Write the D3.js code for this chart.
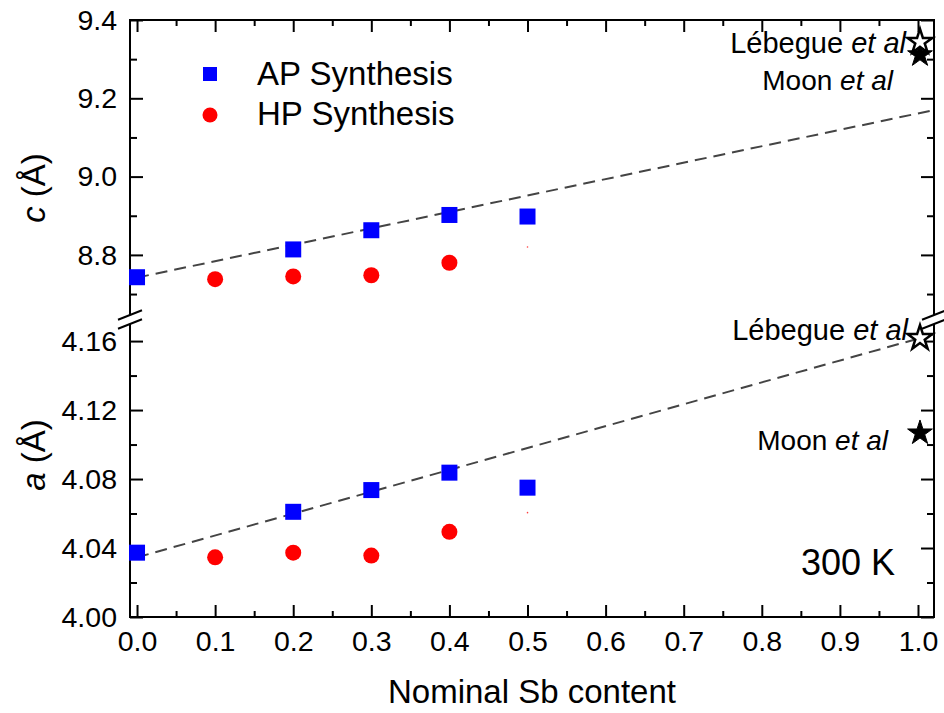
<!DOCTYPE html>
<html>
<head>
<meta charset="utf-8">
<script src="https://cdn.jsdelivr.net/npm/d3@7"></script>
<style>
  body { margin: 0; background: #fff; }
  svg text { font-family: "Liberation Sans", Arial, sans-serif; fill: #000; }
</style>
</head>
<body>
<div id="chart"></div>
<script>
// ---- data ----
const xAP = [0.0, 0.2, 0.3, 0.4, 0.5];
const cAP = [8.743, 8.814, 8.863, 8.902, 8.898];
const aAP = [4.0373, 4.061, 4.0736, 4.0837, 4.075];

const xHP = [0.1, 0.2, 0.3, 0.4];
const cHP = [8.738, 8.745, 8.748, 8.780];
const aHP = [4.0346, 4.0373, 4.0356, 4.0494];

// faint red speck at x = 0.5 in both panels
const xSpeck = [0.5];
const cSpeck = [8.820];
const aSpeck = [4.0605];

// dashed linear guides
const xFit = [0.0, 1.0205];
const cFit = [8.742, 9.170];
const aFit = [4.0346, 4.164];

// literature values (x = 1.0)
const xRef = [1.0];
const cLebegue = [9.344];
const cMoon = [9.311];
const aLebegue = [4.1617];
const aMoon = [4.1067];

const xTicks = [0, 0.1, 0.2, 0.3, 0.4, 0.5, 0.6, 0.7, 0.8, 0.9, 1.0];
const xMinor = [0.05, 0.15, 0.25, 0.35, 0.45, 0.55, 0.65, 0.75, 0.85, 0.95];
const cTicks = [8.8, 9.0, 9.2, 9.4];
const cMinor = [8.7, 8.9, 9.1, 9.3];
const aTicks = [4.00, 4.04, 4.08, 4.12, 4.16];
const aMinor = [4.02, 4.06, 4.10, 4.14];

// ---- layout ----
const W = 944, H = 713;
const mLeft = 130, mRight = 934, mTop = 20, mBottom = 617;
const breakY = 319.5;          // centre of axis break
const topEnd = 315, botStart = 324;

const svg = d3.select("#chart").append("svg")
    .attr("width", W).attr("height", H);

const x = d3.scaleLinear().domain([-0.009, 1.0205]).range([mLeft, mRight]);
const yc = d3.scaleLinear().domain([8.6465, 9.4]).range([topEnd, mTop]);
const ya = d3.scaleLinear().domain([4.0, 4.1699]).range([mBottom, botStart]);

svg.append("defs").append("clipPath").attr("id", "plotClip")
    .append("rect").attr("x", mLeft).attr("y", mTop)
    .attr("width", mRight - mLeft).attr("height", mBottom - mTop);

// helper for axes: strip domain, thicken ticks
function styleAxis(g) {
    g.select(".domain").remove();
    g.selectAll(".tick line").attr("stroke", "#000").attr("stroke-width", 2);
    g.selectAll(".tick text").attr("font-size", 28.5);
}

// x axes (bottom with labels, top without)
svg.append("g").attr("transform", `translate(0,${mBottom})`)
    .call(d3.axisBottom(x).tickValues(xTicks).tickFormat(d3.format(".1f")).tickSize(-12).tickPadding(14))
    .call(styleAxis);
svg.append("g").attr("transform", `translate(0,${mBottom})`)
    .call(d3.axisBottom(x).tickValues(xMinor).tickFormat("").tickSize(-6))
    .call(styleAxis);
svg.append("g").attr("transform", `translate(0,${mTop})`)
    .call(d3.axisTop(x).tickValues(xTicks).tickFormat("").tickSize(-12))
    .call(styleAxis);
svg.append("g").attr("transform", `translate(0,${mTop})`)
    .call(d3.axisTop(x).tickValues(xMinor).tickFormat("").tickSize(-6))
    .call(styleAxis);

// y axes for both panels
[[yc, cTicks, cMinor, d3.format(".1f")], [ya, aTicks, aMinor, d3.format(".2f")]].forEach(([sc, maj, mnr, fmt]) => {
    svg.append("g").attr("transform", `translate(${mLeft},0)`)
        .call(d3.axisLeft(sc).tickValues(maj).tickFormat(fmt).tickSize(-13).tickPadding(13))
        .call(styleAxis);
    svg.append("g").attr("transform", `translate(${mLeft},0)`)
        .call(d3.axisLeft(sc).tickValues(mnr).tickFormat("").tickSize(-7))
        .call(styleAxis);
    svg.append("g").attr("transform", `translate(${mRight},0)`)
        .call(d3.axisRight(sc).tickValues(maj).tickFormat("").tickSize(-13))
        .call(styleAxis);
    svg.append("g").attr("transform", `translate(${mRight},0)`)
        .call(d3.axisRight(sc).tickValues(mnr).tickFormat("").tickSize(-7))
        .call(styleAxis);
});

// frame with broken vertical axes
const frame = svg.append("g").attr("stroke", "#000").attr("stroke-width", 2).attr("fill", "none");
frame.append("line").attr("x1", mLeft - 1).attr("x2", mRight + 1).attr("y1", mTop).attr("y2", mTop);
frame.append("line").attr("x1", mLeft - 1).attr("x2", mRight + 1).attr("y1", mBottom).attr("y2", mBottom);
[mLeft, mRight].forEach(xx => {
    frame.append("line").attr("x1", xx).attr("x2", xx).attr("y1", mTop).attr("y2", topEnd);
    frame.append("line").attr("x1", xx).attr("x2", xx).attr("y1", botStart).attr("y2", mBottom);
    [-4.5, 4.5].forEach(o => {
        frame.append("line")
            .attr("x1", xx - 12).attr("y1", breakY + o + 4.7)
            .attr("x2", xx + 12).attr("y2", breakY + o - 4.7);
    });
});

const plot = svg.append("g").attr("clip-path", "url(#plotClip)");

// dashed guides
const fitLine = sc => d3.line().x(d => x(d[0])).y(d => sc(d[1]));
plot.append("path").datum(d3.zip(xFit, cFit))
    .attr("d", fitLine(yc)).attr("fill", "none")
    .attr("stroke", "#444").attr("stroke-width", 2).attr("stroke-dasharray", "12,7");
plot.append("path").datum(d3.zip(xFit, aFit))
    .attr("d", fitLine(ya)).attr("fill", "none")
    .attr("stroke", "#444").attr("stroke-width", 2).attr("stroke-dasharray", "12,7");

// markers
const sq = 16;
[[yc, cAP, cHP, cSpeck], [ya, aAP, aHP, aSpeck]].forEach(([sc, ap, hp, sp]) => {
    svg.append("g").selectAll("rect")
        .data(d3.zip(xAP, ap)).enter().append("rect")
        .attr("x", d => x(d[0]) - sq / 2).attr("y", d => sc(d[1]) - sq / 2)
        .attr("width", sq).attr("height", sq)
        .attr("fill", "#0000ff");
    svg.append("g").selectAll("circle")
        .data(d3.zip(xHP, hp)).enter().append("circle")
        .attr("cx", d => x(d[0])).attr("cy", d => sc(d[1])).attr("r", 8)
        .attr("fill", "#ff0000");
    svg.append("g").selectAll("circle")
        .data(d3.zip(xSpeck, sp)).enter().append("circle")
        .attr("cx", d => x(d[0])).attr("cy", d => sc(d[1])).attr("r", 0.8)
        .attr("fill", "#ff4040");
});

// star labels (drawn under the stars)
function refLabel(xx, yy, name, size) {
    const t = svg.append("text").attr("x", xx).attr("y", yy)
        .attr("text-anchor", "end").attr("font-size", size);
    t.append("tspan").text(name + " ");
    t.append("tspan").attr("font-style", "italic").text("et al");
}
refLabel(906, 53, "Lébegue", 29);
refLabel(893, 90, "Moon", 28);
refLabel(908, 340, "Lébegue", 29);
refLabel(888, 450, "Moon", 28);

// literature stars
const star = d3.symbol().type(d3.symbolStar).size(190);
function drawStars(sc, vals, open) {
    svg.append("g").selectAll("path")
        .data(d3.zip(xRef, vals)).enter().append("path")
        .attr("d", star)
        .attr("transform", d => `translate(${x(d[0]) + 2},${sc(d[1])})`)
        .attr("fill", open ? "#fff" : "#000")
        .attr("stroke", "#000").attr("stroke-width", open ? 2.5 : 1);
}
drawStars(yc, cMoon, false);
drawStars(yc, cLebegue, true);
drawStars(ya, aMoon, false);
drawStars(ya, aLebegue, true);

svg.append("text").attr("x", 895).attr("y", 575)
    .attr("text-anchor", "end").attr("font-size", 36).text("300 K");

// legend
svg.append("rect").attr("x", 203).attr("y", 67).attr("width", 14).attr("height", 14).attr("fill", "#0000ff");
svg.append("circle").attr("cx", 210).attr("cy", 115).attr("r", 7.5).attr("fill", "#ff0000");
svg.append("text").attr("x", 257).attr("y", 85).attr("font-size", 33).text("AP Synthesis");
svg.append("text").attr("x", 257).attr("y", 125).attr("font-size", 33).text("HP Synthesis");

// axis titles
svg.append("text").attr("x", (mLeft + mRight) / 2).attr("y", 703)
    .attr("text-anchor", "middle").attr("font-size", 33).text("Nominal Sb content");

function yTitle(cy, sym) {
    const t = svg.append("text")
        .attr("transform", `translate(45,${cy}) rotate(-90)`)
        .attr("text-anchor", "middle").attr("font-size", 33);
    t.append("tspan").attr("font-style", "italic").text(sym);
    t.append("tspan").text(" (Å)");
}
yTitle(188, "c");
yTitle(455, "a");
</script>
</body>
</html>
